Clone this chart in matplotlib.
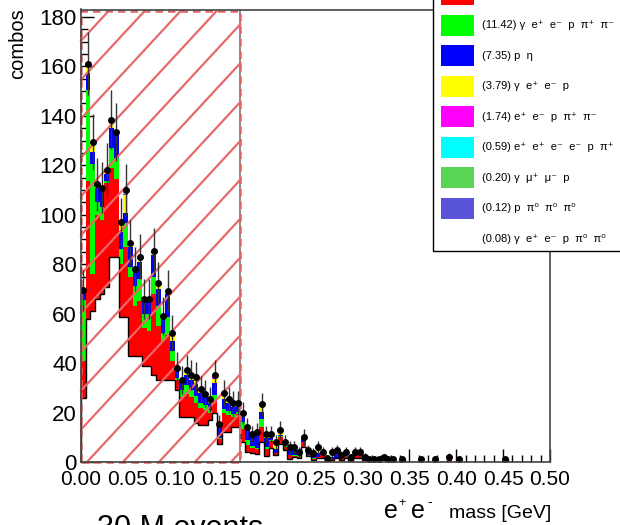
import numpy as np
import matplotlib
matplotlib.use("Agg")
import matplotlib.pyplot as plt
from matplotlib.patches import Rectangle
from matplotlib.lines import Line2D
from matplotlib.transforms import IdentityTransform
from matplotlib.ticker import MultipleLocator, FormatStrFormatter

plt.rcParams['font.family'] = ['Liberation Sans', 'DejaVu Sans']

# e+ e- invariant mass histogram: 100 bins of 5 MeV from 0 to 0.5 GeV
bin_edges = np.linspace(0.0, 0.5, 101)

# stacked channel contributions per bin (bottom to top)
white_part = [
    26, 58, 61, 66, 68, 70.7, 83, 83, 58.7, 58.7,
    43, 43, 43, 39, 39, 35, 33, 33, 33, 33,
    29, 18.3, 18.3, 18.3, 15.7, 15, 15, 17, 20, 7.3,
    12, 12, 14.3, 14.3, 8.2, 4, 3.8, 3.3, 8, 2.4,
    5.5, 3, 7.3, 5, 1.2, 2, 1.5, 6, 2.5, 1,
    1.5, 1.5, 0.5, 1, 1.5, 0.8, 1.5, 0.6, 1.5, 1.5,
    1, 1.1, 1.1, 1.1, 1.2, 0.5, 1.1, 0, 1.1, 0,
    0, 0, 0.6, 0, 0, 1.1, 0, 0, 0, 0,
    0.5, 0, 0, 0, 0, 0, 0, 0, 0, 0,
    1.1, 0, 0, 0, 0, 0, 0, 0, 0, 0,
]
red_part = [
    15, 55.5, 15, 34, 30, 42.3, 36, 31.6, 21.3, 28.3,
    32, 20, 22, 15, 14, 33, 22, 16, 18.5, 8,
    4, 8, 9, 8, 8, 7, 6, 3, 5, 2,
    8, 7, 4, 5, 5, 3, 2, 2, 6.3, 3,
    3, 0.5, 2.8, 1, 1.6, 0.5, 0.5, 2, 0.3, 0.3,
    0.5, 1.5, 0, 0.3, 0.3, 1, 1.7, 0.5, 1.2, 1.2,
    0.5, 0, 0, 0, 0, 0, 0, 0, 0, 0,
    0, 0, 0, 0, 0, 0, 0, 0, 1.0, 0,
    0, 0, 0, 0, 0, 0, 0, 0, 0, 0,
    0, 0, 0, 0, 0, 0, 0, 0, 0, 0,
]
green_part = [
    24.5, 37, 44.7, 5, 5, 0.5, 8, 8.4, 6, 9.5,
    4, 8, 9, 6, 7, 6.7, 8, 3, 7, 4,
    1, 3, 4, 3, 3, 2, 2, 1, 2, 0.5,
    1.5, 1.5, 1, 1, 3, 2, 0.5, 0.5, 3, 0.5,
    0.5, 0.3, 0.3, 0.5, 0.1, 0.2, 1.5, 0.2, 0.2, 0.2,
    0, 0, 0, 0, 0, 0, 0, 0.3, 0.5, 1,
    0, 0, 0, 0, 0, 0, 0, 0, 0, 0,
    0, 0, 0, 0, 0, 0, 0, 0, 0, 0,
    0, 0, 0, 0, 0, 0, 0, 0, 0, 0,
    0, 0, 0, 0, 0, 0, 0, 0, 0, 0,
]
blue_part = [
    3.3, 7, 4.7, 6, 7, 3, 8, 10, 7, 4.1,
    8, 6, 7, 5, 5, 9, 7, 6, 9.4, 4,
    3.5, 3, 4, 4, 5, 4, 3.5, 3, 5, 4.2,
    4, 3.3, 3, 2.5, 2, 4, 4, 5, 3.1, 4,
    1.2, 1.4, 0.5, 1.2, 2.6, 2.8, 0.4, 1, 1.5, 2,
    1.5, 1.2, 1, 0.9, 3, 1, 1, 0.5, 1, 0.5,
    0.6, 0, 0, 0, 0.7, 0.6, 0, 0, 0, 0,
    0, 0, 0, 0, 0, 0, 0, 0, 1.2, 0,
    0.6, 0, 0, 0, 0, 0, 0, 0, 0, 0,
    0, 0, 0, 0, 0, 0, 0, 0, 0, 0,
]
yellow_part = [
    0.7, 3.5, 3.6, 1, 0.5, 1, 3, 0.3, 3.5, 7.4,
    1.4, 1, 1.5, 1, 1, 0.7, 1.7, 1, 1.3, 2,
    0.6, 0.8, 1.2, 1.2, 2, 1, 0.8, 1, 1.5, 1.2,
    1.5, 1, 1, 0.8, 1, 0.5, 0.9, 1.5, 2.3, 0.8,
    0.5, 2.7, 1.5, 0.5, 0.4, 0.4, 0.3, 1, 0.3, 0.3,
    2.4, 0, 0, 2, 0, 0, 0, 0, 0, 0,
    0, 0, 0, 0, 0, 0, 0, 0, 0, 0,
    0, 0, 0.5, 0, 0, 0, 0, 0, 0, 0,
    0, 0, 0, 0, 0, 0, 0, 0, 0, 0,
    0, 0, 0, 0, 0, 0, 0, 0, 0, 0,
]
magenta_part = [
    0, 0, 0.4, 0.3, 0.5, 0.5, 0.5, 0.2, 0.5, 0.5,
    0, 0, 0.5, 0, 0, 0.5, 0.5, 0, 0, 1.2,
    0, 0, 0.7, 0.7, 0.8, 0.4, 0.4, 0.3, 1.2, 0,
    1, 0.5, 0.4, 0.4, 0.5, 0.5, 0, 0, 0.6, 0.5,
    0.5, 0.3, 0.5, 0, 0, 0, 0, 0, 0, 0,
] + [0] * 50
cyan_part = [0] * 9 + [1.5] + [0] * 5 + [0.5] + [0] * 12 + [0.5] + [0] * 71

# uncertainties on the summed yield
yield_err = [
    8.3, 12.7, 11.4, 10.6, 10.5, 10.9, 11.8, 11.6, 9.8, 10.5,
    9.4, 8.8, 9.1, 8.1, 8.1, 9.2, 8.5, 7.7, 8.3, 7.2,
    6.2, 5.8, 6.1, 5.9, 5.9, 5.4, 5.3, 5.0, 5.9, 3.9,
    5.3, 5.0, 4.9, 4.9, 4.4, 3.7, 3.3, 3.5, 4.8, 3.3,
    3.3, 2.9, 3.6, 2.9, 2.4, 2.4, 2.0, 3.2, 2.2, 1.9,
    2.4, 2.0, 1.2, 2.0, 2.2, 1.7, 2.0, 1.4, 2.0, 2.0,
    1.4, 1.0, 1.0, 1.0, 1.4, 1.0, 1.0, 0, 1.0, 0,
    0, 0, 1.0, 0, 0, 1.0, 0, 0, 1.5, 0,
    1.0, 0, 0, 0, 0, 0, 0, 0, 0, 0,
    1.0, 0, 0, 0, 0, 0, 0, 0, 0, 0,
]

legend_labels = [
    "(74.71) \u03b3  p  \u03c0\u207a  \u03c0\u207b",
    "(11.42) \u03b3  e\u207a  e\u207b  p  \u03c0\u207a  \u03c0\u207b",
    "(7.35) p  \u03b7",
    "(3.79) \u03b3  e\u207a  e\u207b  p",
    "(1.74) e\u207a  e\u207b  p  \u03c0\u207a  \u03c0\u207b",
    "(0.59) e\u207a  e\u207a  e\u207b  e\u207b  p  \u03c0\u207a  \u03c0\u207b",
    "(0.20) \u03b3  \u03bc\u207a  \u03bc\u207b  p",
    "(0.12) p  \u03c0\u2070  \u03c0\u2070  \u03c0\u2070",
    "(0.08) \u03b3  e\u207a  e\u207b  p  \u03c0\u2070  \u03c0\u2070",
]
legend_colors = ['#ff0000', '#00ff00', '#0000ff', '#ffff00', '#ff00ff',
                 '#00ffff', '#59d454', '#5954d9', '#ffffff']

veto_range = (0.0, 0.17)
veto_top = 182.3

W, H = 620, 525
fig = plt.figure(figsize=(W / 100, H / 100), dpi=100)
ax = fig.add_axes([81 / W, 1 - 462 / H, 469 / W, 452.5 / H])
ax.set_xlim(0, 0.5)
ax.set_ylim(0, 183)

parts = [np.array(p, dtype=float) for p in
         (white_part, red_part, green_part, blue_part, yellow_part,
          magenta_part, cyan_part)]
cum = np.cumsum(parts, axis=0)
fill_colors = ['#ffffff', '#ff0000', '#00ff00', '#0000ff', '#ffff00',
               '#ff00ff', '#00ffff']

# draw cumulative layers from the top of the stack down
for k in range(len(parts) - 1, 0, -1):
    ax.stairs(cum[k], bin_edges, baseline=0, fill=True,
              facecolor=fill_colors[k], edgecolor='none', lw=0, zorder=2)
ax.stairs(cum[0], bin_edges, baseline=0, fill=True, facecolor='white',
          edgecolor='black', lw=1.0, zorder=2.2)

# hatched veto window: diagonal strokes cut to the window in pixel space
fig.canvas.draw()
x0d, y0d = ax.transData.transform((veto_range[0], 0))
x1d, y1d = ax.transData.transform((veto_range[1], veto_top))
slope = 1.08
spacing = 36.0
for k in range(-20, 12):
    xb = x0d + 6 + spacing * k
    lo = max(xb, x0d)
    hi = min(xb + (y1d - y0d) / slope, x1d)
    if hi <= lo:
        continue
    ya = y0d + slope * (lo - xb)
    yb = y0d + slope * (hi - xb)
    ax.add_line(Line2D([lo, hi], [ya, yb], transform=IdentityTransform(),
                       color='#e8696b', lw=1.6, zorder=3.5, clip_on=False))
ax.plot([veto_range[1]] * 2, [0, veto_top], color='#777777', lw=1.2, zorder=3.4)
outline = Rectangle((veto_range[0], 0), veto_range[1] - veto_range[0], veto_top,
                    facecolor='none', edgecolor='#e06666', lw=1.8,
                    linestyle=(0, (3, 2)), zorder=3.6, clip_on=False)
ax.add_patch(outline)

# summed yield with uncertainties
total = cum[-1]
err = np.array(yield_err)
centers = 0.5 * (bin_edges[:-1] + bin_edges[1:])
has = total > 0
ax.errorbar(centers[has], total[has], yerr=err[has], fmt='o', color='black',
            ecolor='#333333', elinewidth=1.0, ms=4.0, capsize=0, zorder=4)

# axis styling
for s in ax.spines.values():
    s.set_color('#444444')
    s.set_linewidth(1.2)
    s.set_zorder(5)
ax.xaxis.set_major_locator(MultipleLocator(0.05))
ax.xaxis.set_minor_locator(MultipleLocator(0.01))
ax.yaxis.set_major_locator(MultipleLocator(20))
ax.yaxis.set_minor_locator(MultipleLocator(5))
ax.xaxis.set_major_formatter(FormatStrFormatter('%.2f'))
ax.tick_params(which='both', direction='in', top=False, right=False,
               color='black', width=1.0)
ax.tick_params(which='major', length=9.5)
ax.tick_params(which='minor', length=4.7)
ax.tick_params(axis='x', labelsize=15, pad=6)
ax.tick_params(axis='y', labelsize=16, pad=3)

# axis titles
fig.text(18 / W, 1 - 8 / H, 'combos', rotation=90, ha='center', va='top',
         fontsize=14.5)
fig.text(384 / W, 1 - 518 / H, 'e', fontsize=18, ha='left', va='baseline')
fig.text(398 / W, 1 - 506 / H, '+', fontsize=9, ha='left', va='baseline')
fig.text(411 / W, 1 - 518 / H, 'e', fontsize=18, ha='left', va='baseline')
fig.text(427 / W, 1 - 506 / H, '-', fontsize=10, ha='left', va='baseline')
fig.text(551 / W, 1 - 518 / H, 'mass [GeV]', fontsize=14, ha='right',
         va='baseline')
fig.text(97 / W, 1 - 537 / H, '30 M events', fontsize=22, ha='left',
         va='baseline')

# legend panel
lx0, lx1, ly0, ly1 = 433, 630, -30, 251
fig.add_artist(Rectangle((lx0 / W, 1 - ly1 / H), (lx1 - lx0) / W,
                         (ly1 - ly0) / H, transform=fig.transFigure,
                         facecolor='white', edgecolor='black', lw=1.0,
                         zorder=10))
for i, (lab, col) in enumerate(zip(legend_labels, legend_colors)):
    yc = -5.5 + 30.55 * i
    fig.add_artist(Rectangle((441 / W, 1 - (yc + 10.5) / H), 33 / W, 21 / H,
                             transform=fig.transFigure, facecolor=col,
                             edgecolor='none', zorder=11))
    fig.text(482 / W, 1 - yc / H, lab, fontsize=8, ha='left', va='center',
             zorder=12)

fig.savefig('out.png', dpi=100)
